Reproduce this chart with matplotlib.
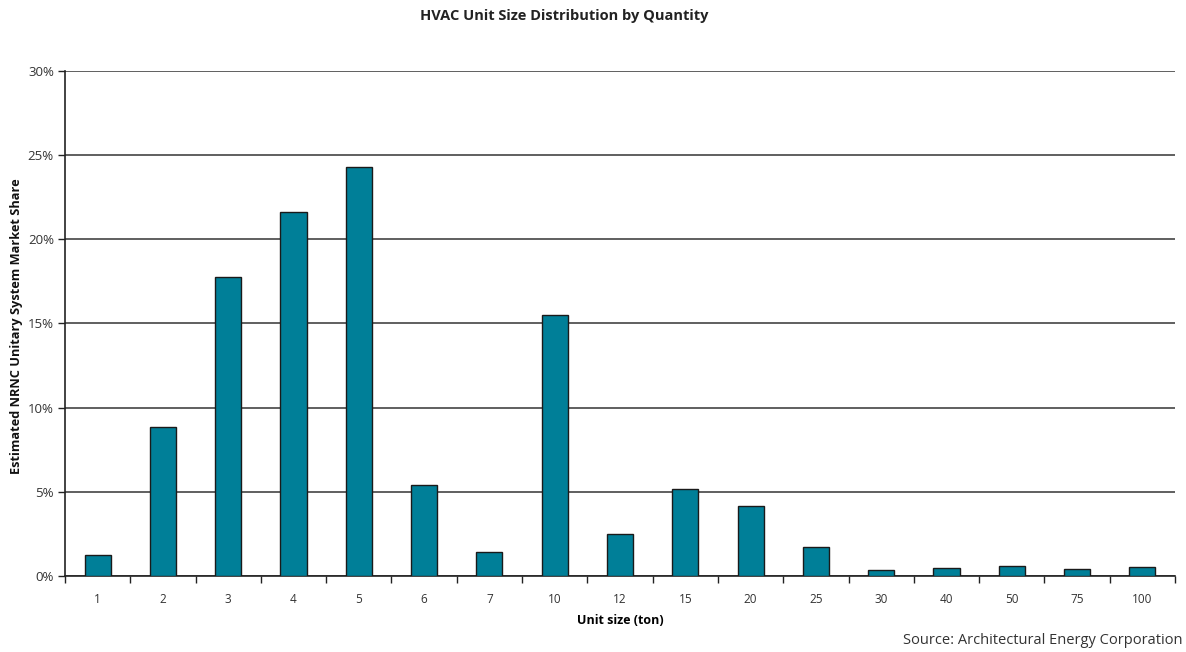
import numpy as np
import matplotlib.pyplot as plt
from matplotlib.ticker import FixedLocator, FuncFormatter

# unit sizes (ton) and estimated market share (%)
sizes = ["1", "2", "3", "4", "5", "6", "7", "10", "12", "15", "20", "25", "30", "40", "50", "75", "100"]
share = [1.25, 8.85, 17.75, 21.6, 24.3, 5.4, 1.45, 15.5, 2.5, 5.15, 4.15, 1.7, 0.35, 0.48, 0.6, 0.42, 0.52]

plt.rcParams['font.family'] = ['Open Sans', 'DejaVu Sans']

fig = plt.figure(figsize=(11.86, 6.52), dpi=100)
ax = fig.add_axes([0.0548, 0.1166, 0.9359, 0.7745])

x = np.arange(len(sizes))
ax.bar(x, share, width=0.4, color="#007F98", edgecolor="#1a1a1a", linewidth=1.0, zorder=3)

ax.set_xlim(-0.5, len(sizes) - 0.5)
ax.set_ylim(0, 30)
ax.set_yticks(np.arange(0, 31, 5))
ax.yaxis.set_major_formatter(FuncFormatter(lambda v, p: f"{int(v)}%"))
ax.yaxis.grid(True, color="#444444", linewidth=1.2, zorder=0)

# category labels centred, tick marks on the boundaries
ax.set_xticks(x)
ax.set_xticklabels(sizes)
ax.tick_params(axis="x", which="major", length=0, pad=12, labelsize=8.5, colors="#333333")
ax.xaxis.set_minor_locator(FixedLocator(np.arange(-0.5, len(sizes), 1.0)))
ax.tick_params(axis="x", which="minor", length=5, width=1, direction="out", color="#222222")
ax.tick_params(axis="y", length=5, width=1, labelsize=9.5, colors="#333333", pad=3)
ax.tick_params(axis="y", color="#222222")

for side in ["top", "right"]:
    ax.spines[side].set_visible(False)
for side in ["left", "bottom"]:
    ax.spines[side].set_color("#222222")
    ax.spines[side].set_linewidth(1.2)

ax.set_xlabel("Unit size (ton)", fontsize=9, fontweight="bold", labelpad=6)
fig.text(0.0135, 0.5, "Estimated NRNC Unitary System Market Share", rotation=90,
         ha="center", va="center", fontsize=9.2, fontweight="bold", color="#111111")

fig.text(0.476, 0.975, "HVAC Unit Size Distribution by Quantity", ha="center", va="center",
         fontsize=10.5, fontweight="bold", color="#222222")
fig.text(0.997, 0.006, "Source: Architectural Energy Corporation", ha="right", va="bottom",
         fontsize=10.5, color="#333333")

fig.savefig("out.png", dpi=100)
